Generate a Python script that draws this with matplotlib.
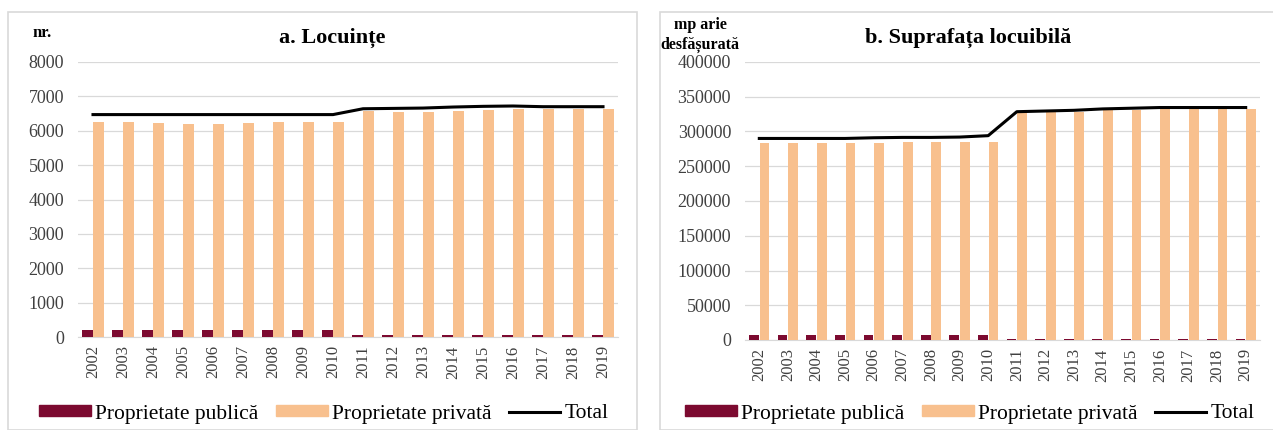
import matplotlib
matplotlib.use("Agg")
import matplotlib.pyplot as plt
import numpy as np
from matplotlib.patches import Rectangle
from matplotlib.lines import Line2D

plt.rcParams["font.family"] = ["Liberation Serif", "DejaVu Serif"]

years = [str(y) for y in range(2002, 2020)]

# a. Locuinte (nr.)
loc_publica = [210, 210, 210, 210, 210, 210, 210, 210, 210,
               70, 70, 70, 70, 70, 70, 70, 70, 70]
loc_privata = [6240, 6240, 6230, 6200, 6200, 6230, 6240, 6240, 6240,
               6570, 6540, 6550, 6580, 6610, 6640, 6620, 6620, 6620]
loc_total = [6470, 6470, 6470, 6470, 6470, 6470, 6470, 6470, 6470,
             6640, 6650, 6660, 6690, 6710, 6720, 6700, 6700, 6700]

# b. Suprafata locuibila (mp arie desfasurata)
sup_publica = [7000, 7000, 7000, 7000, 7000, 7000, 7000, 7000, 7000,
               2000, 2000, 2000, 2000, 2000, 2000, 2000, 2000, 2000]
sup_privata = [283000, 283000, 283000, 283000, 284000, 284500, 284500, 285000, 285500,
               326500, 327500, 328500, 330500, 331500, 332500, 332500, 332500, 333000]
sup_total = [290000, 290000, 290000, 290000, 291000, 291500, 291500, 292000, 294000,
             328500, 329500, 330500, 332500, 333500, 334500, 334500, 334500, 334500]

col_pub = "#7c0a30"
col_priv = "#f8c08e"
col_grid = "#d9d9d9"
col_txt = "#404040"

W, H = 1273, 430
fig = plt.figure(figsize=(W / 100, H / 100), dpi=100)


def px(x0, y0, x1, y1):
    # pixel box -> figure fraction [left, bottom, width, height]
    return [x0 / W, 1 - y1 / H, (x1 - x0) / W, (y1 - y0) / H]


def panel(box, pub, priv, tot, ymax, ystep, title, title_x, unit_lines, unit_x, legend_x):
    ax = fig.add_axes(px(*box))
    x = np.arange(len(years))
    w = 0.34
    ax.bar(x - 0.185, pub, w, color=col_pub, zorder=3)
    ax.bar(x + 0.185, priv, w, color=col_priv, zorder=3)
    ax.plot(x, tot, color="black", lw=2.2, zorder=4)
    ax.set_xlim(-0.5, len(years) - 0.5)
    ax.set_ylim(0, ymax)
    ax.set_yticks(np.arange(0, ymax + 1, ystep))
    ax.set_xticks(x)
    ax.set_xticklabels(years, rotation=90, fontsize=12, color=col_txt)
    ax.tick_params(axis="y", length=0, pad=10, labelsize=13, labelcolor=col_txt)
    ax.tick_params(axis="x", length=0, pad=6)
    ax.grid(axis="y", color=col_grid, lw=0.9, zorder=0)
    ax.set_axisbelow(True)
    for s in ["top", "right", "left"]:
        ax.spines[s].set_visible(False)
    ax.spines["bottom"].set_color(col_grid)

    fig.text(title_x / W, 1 - 38 / H, title, ha="center", va="center",
             fontsize=16, fontweight="bold")
    if len(unit_lines) == 1:
        fig.text(unit_x / W, 1 - 33 / H, unit_lines[0], ha="center", va="center",
                 fontsize=12, fontweight="bold")
    else:
        fig.text(unit_x / W, 1 - 25 / H, unit_lines[0], ha="center", va="center",
                 fontsize=11.5, fontweight="bold")
        fig.text(unit_x / W, 1 - 45 / H, unit_lines[1], ha="center", va="center",
                 fontsize=11.5, fontweight="bold")

    handles = [
        Rectangle((0, 0), 1, 1, color=col_pub),
        Rectangle((0, 0), 1, 1, color=col_priv),
        Line2D([0], [0], color="black", lw=2.2),
    ]
    fig.legend(handles, ["Proprietate publică", "Proprietate privată", "Total"],
               loc="center", bbox_to_anchor=(legend_x / W, 1 - 414 / H), ncol=3,
               frameon=False, fontsize=15.5, handlelength=2.4, handleheight=0.4,
               handletextpad=0.2, columnspacing=0.8, borderaxespad=0)
    return ax


# panel borders
fig.patches.append(Rectangle((8 / W, 0), 629 / W, 1 - 12 / H, transform=fig.transFigure,
                             fill=False, edgecolor=col_grid, lw=1.2))
fig.patches.append(Rectangle((660 / W, 0), 620 / W, 1 - 12 / H, transform=fig.transFigure,
                             fill=False, edgecolor=col_grid, lw=1.2))

panel((78, 62, 618, 337), loc_publica, loc_privata, loc_total, 8000, 1000,
      "a. Locuințe", 332, ["nr."], 42, 324)
panel((745, 62, 1260, 340), sup_publica, sup_privata, sup_total, 400000, 50000,
      "b. Suprafața locuibilă", 968, ["mp arie", "desfășurată"], 700, 970)

fig.savefig("out.png", dpi=100)
